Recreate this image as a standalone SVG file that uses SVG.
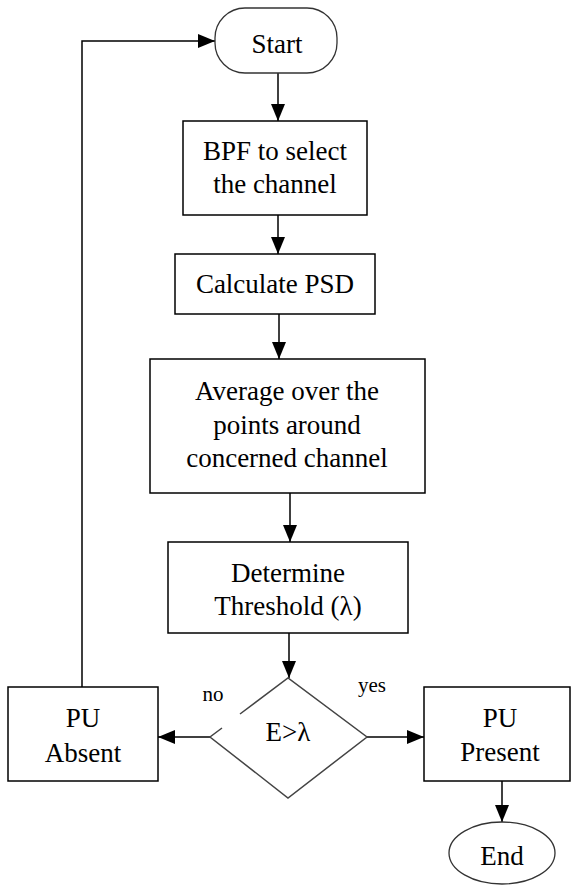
<svg xmlns="http://www.w3.org/2000/svg" width="571" height="886" viewBox="0 0 571 886">
<defs>
<marker id="ah" viewBox="0 0 17 14" refX="17" refY="7" markerWidth="17" markerHeight="14" markerUnits="userSpaceOnUse" orient="auto">
<path d="M0,0 L17,7 L0,14 Z" fill="#000"/>
</marker>
</defs>
<rect width="571" height="886" fill="#fff"/>
<g id="connectors" fill="none" stroke="#000" stroke-width="1.5">
<path d="M278,73 V121" marker-end="url(#ah)"/>
<path d="M278,215 V254" marker-end="url(#ah)"/>
<path d="M279,314 V359" marker-end="url(#ah)"/>
<path d="M290,493 V542" marker-end="url(#ah)"/>
<path d="M289,633 V678" marker-end="url(#ah)"/>
<path d="M210,737 H158" marker-end="url(#ah)"/>
<path d="M367,737 H424" marker-end="url(#ah)"/>
<path d="M502,781 V822" marker-end="url(#ah)"/>
<path d="M82,687 V41 H215" marker-end="url(#ah)"/>
</g>
<g id="start">
<rect x="215" y="8" width="122" height="65" rx="30" ry="30" fill="#fff" stroke="#333" stroke-width="1.3"/>
<text x="277" y="53" font-family="Liberation Serif" font-size="27" text-anchor="middle">Start</text>
</g>
<g id="bpf">
<rect x="183" y="121" width="184" height="94" fill="#fff" stroke="#000" stroke-width="1.5"/>
<text x="275" y="160" font-family="Liberation Serif" font-size="27" text-anchor="middle">BPF to select</text>
<text x="275" y="193" font-family="Liberation Serif" font-size="27" text-anchor="middle">the channel</text>
</g>
<g id="psd">
<rect x="175" y="254" width="200" height="60" fill="#fff" stroke="#000" stroke-width="1.5"/>
<text x="275" y="293" font-family="Liberation Serif" font-size="27" text-anchor="middle">Calculate PSD</text>
</g>
<g id="average">
<rect x="150" y="359" width="275" height="134" fill="#fff" stroke="#000" stroke-width="1.5"/>
<text x="287" y="400" font-family="Liberation Serif" font-size="27" text-anchor="middle">Average over the</text>
<text x="287" y="434" font-family="Liberation Serif" font-size="27" text-anchor="middle">points around</text>
<text x="287" y="467" font-family="Liberation Serif" font-size="27" text-anchor="middle">concerned channel</text>
</g>
<g id="threshold">
<rect x="168" y="542" width="240" height="91" fill="#fff" stroke="#000" stroke-width="1.5"/>
<text x="288" y="582" font-family="Liberation Serif" font-size="27" text-anchor="middle">Determine</text>
<text x="288" y="615" font-family="Liberation Serif" font-size="27" text-anchor="middle">Threshold (λ)</text>
</g>
<g id="decision">
<path d="M222,728 L210,737 L288,798 L367,737 L288,678 L240,714" fill="none" stroke="#444" stroke-width="1.5"/>
<text x="288" y="741" font-family="Liberation Serif" font-size="27" text-anchor="middle">E&gt;λ</text>
<text x="213" y="701" font-family="Liberation Serif" font-size="21" text-anchor="middle">no</text>
<text x="372" y="692" font-family="Liberation Serif" font-size="21" text-anchor="middle">yes</text>
</g>
<g id="absent">
<rect x="8" y="687" width="150" height="94" fill="#fff" stroke="#000" stroke-width="1.5"/>
<text x="83" y="727" font-family="Liberation Serif" font-size="27" text-anchor="middle">PU</text>
<text x="83" y="762" font-family="Liberation Serif" font-size="27" text-anchor="middle">Absent</text>
</g>
<g id="present">
<rect x="424" y="687" width="146" height="94" fill="#fff" stroke="#000" stroke-width="1.5"/>
<text x="500" y="727" font-family="Liberation Serif" font-size="27" text-anchor="middle">PU</text>
<text x="500" y="761" font-family="Liberation Serif" font-size="27" text-anchor="middle">Present</text>
</g>
<g id="end">
<ellipse cx="502" cy="853" rx="53" ry="31" fill="#fff" stroke="#333" stroke-width="1.3"/>
<text x="502" y="865" font-family="Liberation Serif" font-size="27" text-anchor="middle">End</text>
</g>
</svg>
